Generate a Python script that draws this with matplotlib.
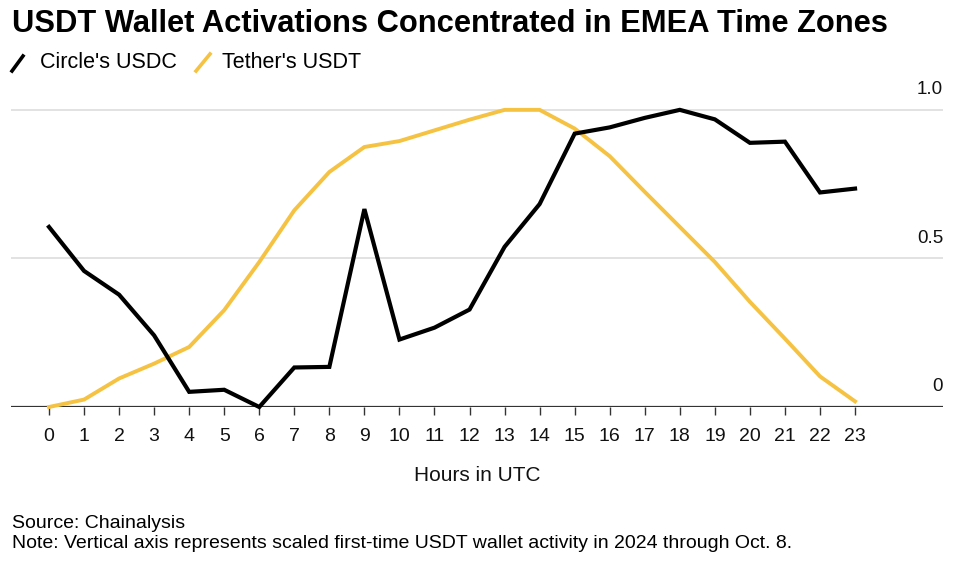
import matplotlib
matplotlib.use("Agg")
import matplotlib.pyplot as plt
from matplotlib.lines import Line2D

plt.rcParams['font.family'] = ['Liberation Sans', 'DejaVu Sans']

#%% data
hours = list(range(24))
usdc = [0.606, 0.458, 0.378, 0.241, 0.051, 0.058, 0.0, 0.133, 0.135, 0.666,
        0.227, 0.267, 0.328, 0.539, 0.683, 0.920, 0.941, 0.973, 1.0, 0.968,
        0.889, 0.893, 0.722, 0.735]
usdt = [0.0, 0.025, 0.096, 0.146, 0.202, 0.326, 0.488, 0.662, 0.791, 0.875,
        0.895, 0.931, 0.967, 1.0, 1.0, 0.937, 0.844, 0.724, 0.606, 0.488,
        0.354, 0.230, 0.103, 0.019]
y_ticks = [0, 0.5, 1.0]
y_labels = ["0", "0.5", "1.0"]

BLACK = "#000000"
YELLOW = "#F5C242"

W, H = 960, 562
fx = lambda x: x / W
fy = lambda y: 1 - y / H

fig = plt.figure(figsize=(9.6, 5.62), dpi=100)
ax = fig.add_axes([fx(11), fy(407), fx(943) - fx(11), (407 - 95) / H])

ax.plot(hours, usdt, color=YELLOW, lw=2.8, clip_on=False, solid_joinstyle='miter', zorder=3)
ax.plot(hours, usdc, color=BLACK, lw=3.0, clip_on=False, solid_joinstyle='miter', zorder=4)

ax.set_xlim(-1.084, 25.51)
ax.set_ylim(0, 1.05)

for s in ax.spines.values():
    s.set_visible(False)
ax.axhline(0, color="#333333", lw=1.6, zorder=2)
for v in y_ticks[1:]:
    ax.axhline(v, color="#dddddd", lw=1.2, zorder=1)

ax.set_yticks([])
for v, lab in zip(y_ticks, y_labels):
    ax.annotate(lab, xy=(1, v), xycoords=('axes fraction', 'data'),
                xytext=(0, 14.5), textcoords='offset points',
                ha='right', va='center', fontsize=13.5, color="#111111")

ax.set_xticks(hours)
ax.set_xticklabels([str(h) for h in hours], fontsize=14, color="#111111")
ax.tick_params(axis='x', length=6, width=1.0, color="#333333", pad=9)
ax.set_xlabel("Hours in UTC", fontsize=15, color="#111111", labelpad=15)

# title and legend
fig.text(fx(12), fy(24), "USDT Wallet Activations Concentrated in EMEA Time Zones",
         fontsize=22.2, fontweight='bold', ha='left', va='center')
fig.add_artist(Line2D([fx(12), fx(23)], [fy(71), fy(56)], color=BLACK, lw=2.6))
fig.text(fx(40), fy(63), "Circle's USDC", fontsize=15.5, ha='left', va='center')
fig.add_artist(Line2D([fx(196), fx(210)], [fy(71), fy(54)], color=YELLOW, lw=2.6))
fig.text(fx(222), fy(63), "Tether's USDT", fontsize=15.5, ha='left', va='center')

# footnotes
fig.text(fx(12), fy(523), "Source: Chainalysis", fontsize=14, ha='left', va='center')
fig.text(fx(12), fy(544), "Note: Vertical axis represents scaled first-time USDT wallet activity in 2024 through Oct. 8.",
         fontsize=14, ha='left', va='center')

fig.savefig("out.png", dpi=100)
